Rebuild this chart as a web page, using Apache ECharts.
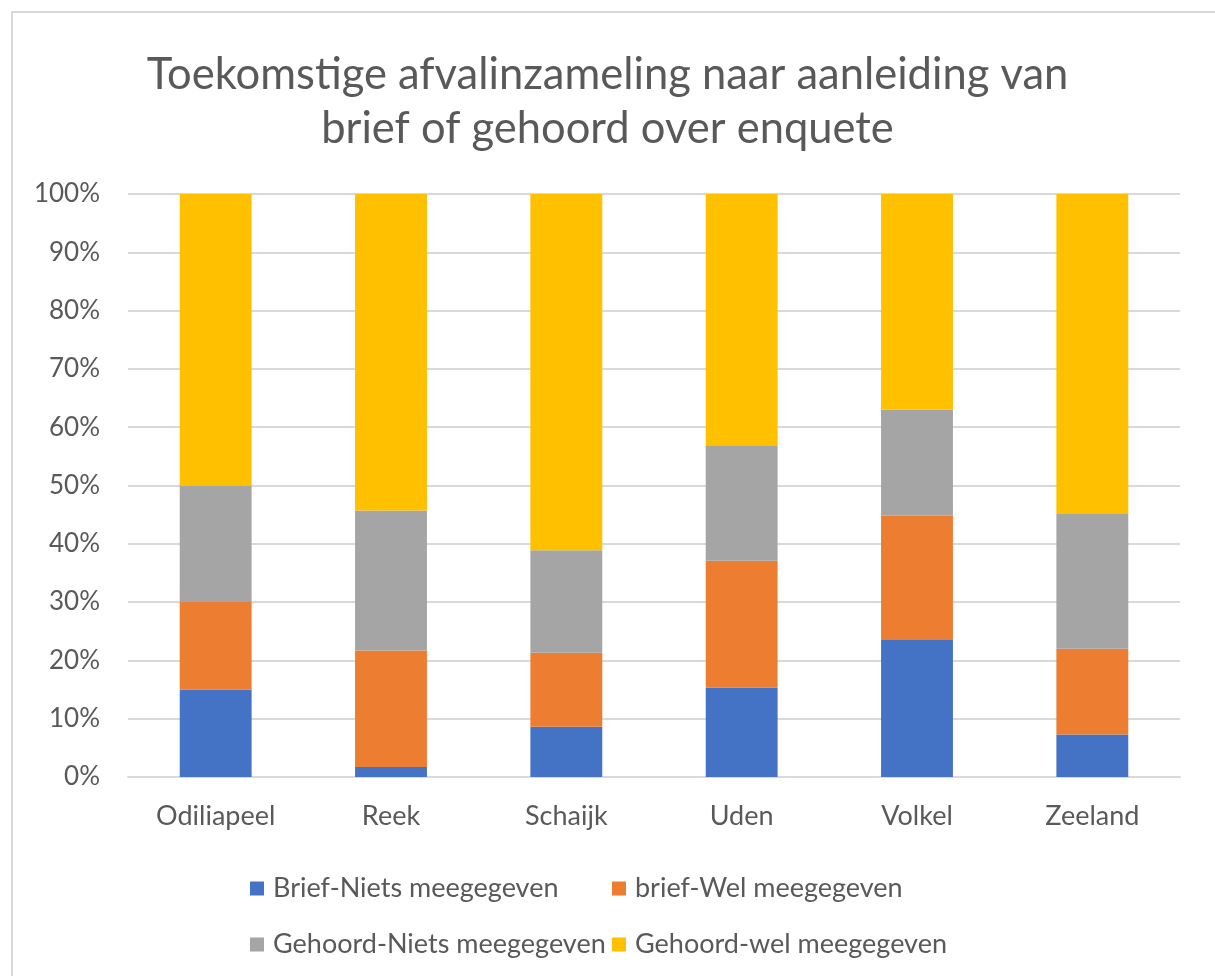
<!DOCTYPE html>
<html>
<head>
<meta charset="utf-8">
<script src="https://cdn.jsdelivr.net/npm/echarts@6/dist/echarts.min.js"></script>
<style>
html,body{margin:0;padding:0;background:#fff;}
#chart{width:1215px;height:976px;}
</style>
</head>
<body>
<div id="chart"></div>
<script>
const categories = ['Odiliapeel', 'Reek', 'Schaijk', 'Uden', 'Volkel', 'Zeeland'];
const seriesNames = ['Brief-Niets meegegeven', 'brief-Wel meegegeven', 'Gehoord-Niets meegegeven', 'Gehoord-wel meegegeven'];
const briefNiets = [15.0, 1.7, 8.6, 15.3, 23.5, 7.3];
const briefWel = [15.0, 20.0, 12.7, 21.8, 21.3, 14.7];
const gehoordNiets = [20.0, 24.0, 17.6, 19.8, 18.2, 23.1];
const gehoordWel = [50.0, 54.3, 61.1, 43.1, 37.0, 54.9];
const yTicks = ['0%', '10%', '20%', '30%', '40%', '50%', '60%', '70%', '80%', '90%', '100%'];
const colors = ['#4472C4', '#ED7D31', '#A5A5A5', '#FFC000'];
const allValues = [briefNiets, briefWel, gehoordNiets, gehoordWel];

const font = 'Lato, "Open Sans", sans-serif';
const textColor = '#595959';

const chart = echarts.init(document.getElementById('chart'), null, {renderer: 'canvas'});

const legendPos = [
  {left: 245, top: 870},
  {left: 607, top: 870},
  {left: 245, top: 926},
  {left: 607, top: 926}
];

chart.setOption({
  animation: false,
  backgroundColor: '#ffffff',
  graphic: [{
    type: 'rect',
    shape: {x: 12, y: 12, width: 1240, height: 1000},
    style: {fill: 'none', stroke: '#d9d9d9', lineWidth: 2},
    silent: true,
    z: -1
  }],
  title: {
    text: 'Toekomstige afvalinzameling naar aanleiding van\nbrief of gehoord over enquete',
    left: 'center',
    top: 43,
    textStyle: {
      fontFamily: font,
      fontSize: 43.5,
      fontWeight: 'normal',
      color: textColor,
      lineHeight: 54
    }
  },
  legend: seriesNames.map((n, i) => ({
    data: [n],
    left: legendPos[i].left,
    top: legendPos[i].top,
    itemWidth: 14,
    itemHeight: 14,
    itemGap: 10,
    icon: 'rect',
    textStyle: {fontFamily: font, fontSize: 27, color: textColor, padding: [0, 0, 0, 4]},
    selectedMode: false
  })),
  grid: {left: 128, right: 35, top: 194, bottom: 199, containLabel: false},
  xAxis: {
    type: 'category',
    data: categories,
    axisLine: {lineStyle: {color: '#d9d9d9', width: 2}},
    axisTick: {show: false},
    axisLabel: {fontFamily: font, fontSize: 27, color: textColor, margin: 26}
  },
  yAxis: {
    type: 'value',
    min: 0,
    max: 100,
    interval: 10,
    axisLine: {show: false},
    axisTick: {show: false},
    splitLine: {lineStyle: {color: '#d9d9d9', width: 2}},
    axisLabel: {
      fontFamily: font, fontSize: 26, color: textColor, margin: 28,
      formatter: (v) => yTicks[Math.round(v / 10)]
    }
  },
  series: seriesNames.map((n, i) => ({
    name: n,
    type: 'bar',
    stack: 'total',
    barWidth: '41%',
    data: allValues[i],
    itemStyle: {color: colors[i]}
  }))
});
</script>
</body>
</html>
